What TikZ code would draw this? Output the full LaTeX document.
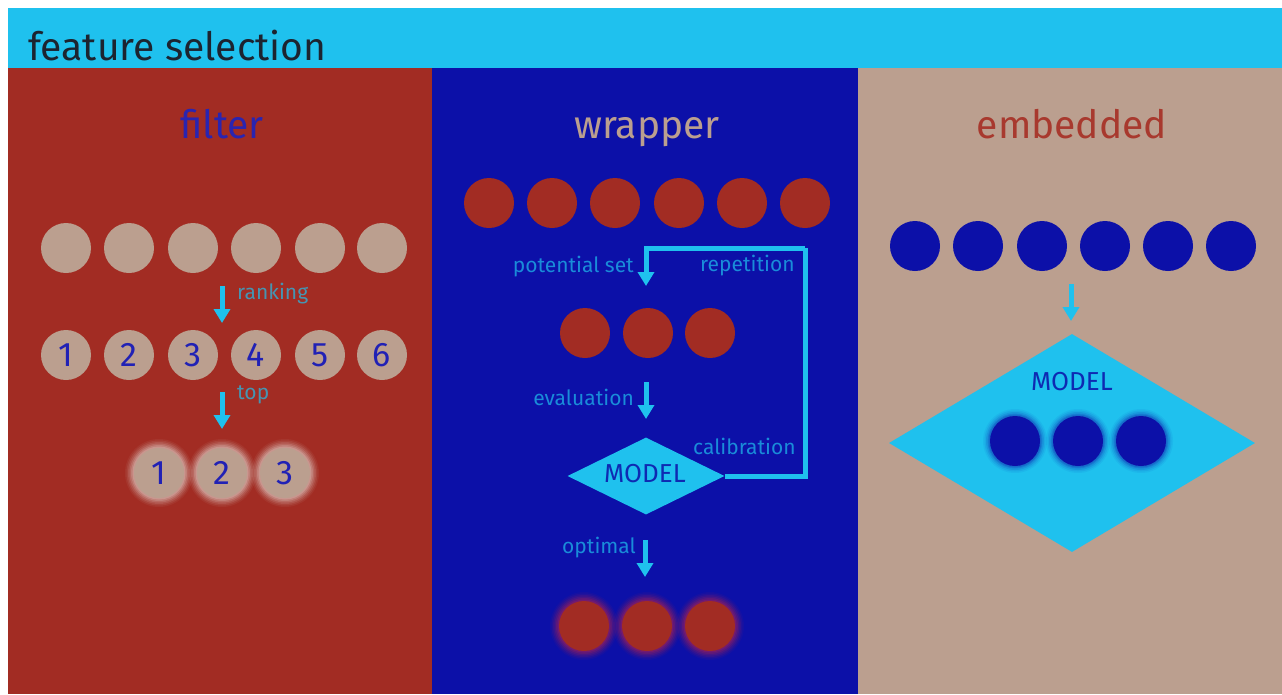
\documentclass[tikz,border=0pt]{standalone}
\usepackage{fontspec}
\setmainfont{Fira Sans}
\usetikzlibrary{arrows.meta,shapes.geometric}
\definecolor{cyanC}{HTML}{1FC1EE}
\definecolor{redC}{HTML}{A22C23}
\definecolor{blueC}{HTML}{0C10A8}
\definecolor{tanC}{HTML}{BB9F8F}
\definecolor{headT}{HTML}{1C2430}
\definecolor{numB}{HTML}{2121B5}
\definecolor{titleB}{HTML}{2A24B0}
\definecolor{titleR}{HTML}{A8392E}
\begin{document}
\begin{tikzpicture}[x=1pt,y=-1pt,
  dot/.style={circle,minimum size=50pt,inner sep=0pt,font=\fontsize{34}{36}\selectfont,text=numB},
  flow/.style={draw=cyanC,line width=5pt,-{Triangle[width=16pt,length=14pt]}},
  loopline/.style={draw=cyanC,line width=5pt},
  lbl/.style={text=cyanC,text opacity=0.7,font=\fontsize{21}{24}\selectfont,inner sep=0pt},
  ttl/.style={font=\fontsize{39}{44}\selectfont,inner sep=0pt,anchor=base},
  modeltxt/.style={font=\fontsize{26}{28}\selectfont,text=blueC,text opacity=0.85,inner sep=0pt}]
\useasboundingbox (0,0) rectangle (1282,694);
\fill[white] (0,0) rectangle (1282,694);
% header
\fill[cyanC] (8,8) rectangle (1282,68);
\node[anchor=base west,inner sep=0pt,font=\fontsize{39}{44}\selectfont,text=headT] (head) at (28,60) {feature selection};
% panels
\fill[redC] (8,68) rectangle (432,694);
\fill[blueC] (432,68) rectangle (858,694);
\fill[tanC] (858,68) rectangle (1282,694);
% titles
\node[ttl,text=titleB] (tf) at (222,138) {filter};
\node[ttl,text=tanC] (tw) at (647,138) {wrapper};
\node[ttl,text=titleR] (te) at (1072,138) {embedded};

% ---------- filter ----------
\foreach \x [count=\i] in {66,129,193,256,320,382}
  \node[dot,fill=tanC] (fa\i) at (\x,248) {};
\foreach \x [count=\i] in {66,129,193,256,320,382}
  \node[dot,fill=tanC] (fb\i) at (\x,355) {\i};
\foreach \x [count=\i] in {159,222,285}{
  \foreach \r/\o in {34/0.06,32.5/0.09,31/0.12,29.5/0.16,28/0.2,26.5/0.25}
    \fill[white!60!tanC,opacity=\o] (\x,473) circle (\r);
}
\foreach \x [count=\i] in {159,222,285}
  \node[dot,fill=tanC] (fc\i) at (\x,473) {\i};
\coordinate (r1s) at (222,286);
\coordinate (r1e) at (222,323);
\draw[flow] (r1s) -- (r1e);
\node[lbl,anchor=west] (lrank) at (237,294) {ranking};
\coordinate (r2s) at (222,392);
\coordinate (r2e) at (222,429);
\draw[flow] (r2s) -- (r2e);
\node[lbl,anchor=west] (ltop) at (237,395) {top};

% ---------- wrapper ----------
\foreach \x [count=\i] in {489,552,615,679,742,805}
  \node[dot,fill=redC] (wa\i) at (\x,203) {};
\foreach \x [count=\i] in {585,648,710}
  \node[dot,fill=redC] (wb\i) at (\x,333) {};
\node[diamond,fill=cyanC,minimum width=157pt,minimum height=77pt,inner sep=0pt] (m1) at (646,476) {};
\node[modeltxt] (m1t) at (645,474) {MODEL};
\coordinate (rc) at (805,248);
\coordinate (pe) at (646,286);
\draw[loopline] (m1.east) -| (rc);
\draw[flow,line join=miter] (rc) -| (pe);
\node[lbl,anchor=east] (lpot) at (634,267) {potential set};
\node[lbl,anchor=west] (lrep) at (700,266) {repetition};
\coordinate (ev1) at (646,382);
\coordinate (ev2) at (646,419);
\draw[flow] (ev1) -- (ev2);
\node[lbl,anchor=east] (leval) at (634,397) {evaluation};
\node[lbl,anchor=west] (lcal) at (693,446) {calibration};
\coordinate (op1) at (645,540);
\coordinate (op2) at (645,577);
\draw[flow] (op1) -- (op2);
\node[lbl,anchor=east] (lopt) at (636,548) {optimal};
\foreach \x in {584,647,710}{
  \foreach \r/\o in {34/0.06,32.5/0.09,31/0.12,29.5/0.16,28/0.2,26.5/0.25}
    \fill[redC!80!magenta,opacity=\o] (\x,626) circle (\r);
}
\foreach \x [count=\i] in {584,647,710}
  \node[dot,fill=redC] (wc\i) at (\x,626) {};

% ---------- embedded ----------
\foreach \x [count=\i] in {915,978,1042,1105,1168,1231}
  \node[dot,fill=blueC] (ea\i) at (\x,246) {};
\coordinate (e1s) at (1071,284);
\coordinate (e1e) at (1071,321);
\draw[flow] (e1s) -- (e1e);
\node[diamond,fill=cyanC,minimum width=366pt,minimum height=218pt,inner sep=0pt] (m2) at (1072,443) {};
\node[modeltxt] (m2t) at (1072,382) {MODEL};
\foreach \x in {1015,1078,1141}{
  \foreach \r/\o in {32/0.08,30.5/0.12,29/0.18,27.5/0.25,26.5/0.35}
    \fill[blueC!70!cyanC,opacity=\o] (\x,441) circle (\r);
}
\foreach \x [count=\i] in {1015,1078,1141}
  \node[dot,fill=blueC] (eb\i) at (\x,441) {};
\end{tikzpicture}
\end{document}
